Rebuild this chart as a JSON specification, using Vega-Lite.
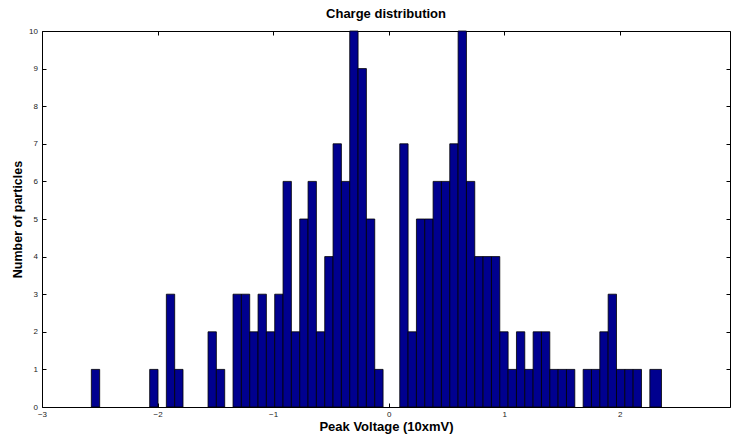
{
  "$schema": "https://vega.github.io/schema/vega-lite/v6.json",
  "autosize": {"type": "none"},
  "width": 688,
  "height": 376,
  "padding": {"left": 42, "top": 31, "right": 1, "bottom": 27},
  "background": "white",
  "config": {
    "view": {"stroke": "black", "strokeWidth": 1},
    "font": "Liberation Sans",
    "axis": {"grid": false, "domain": false, "labelFlush": false, "labelOverlap": false, "tickColor": "black", "tickWidth": 1, "labelColor": "#222222", "labelFontSize": 8, "labelFont": "Liberation Sans", "titleFont": "Liberation Sans", "titleFontWeight": "bold", "titleFontSize": 12.5, "titleColor": "black"}
  },
  "title": {"text": "Charge distribution", "fontSize": 13, "fontWeight": "bold", "font": "Liberation Sans", "color": "black", "offset": 6, "anchor": "middle"},
  "data": {"values": [
    {"start": -2.5730, "end": -2.5008, "count": 1},
    {"start": -2.0680, "end": -1.9958, "count": 1},
    {"start": -1.9237, "end": -1.8515, "count": 3},
    {"start": -1.8515, "end": -1.7794, "count": 1},
    {"start": -1.5629, "end": -1.4908, "count": 2},
    {"start": -1.4908, "end": -1.4186, "count": 1},
    {"start": -1.3465, "end": -1.2743, "count": 3},
    {"start": -1.2743, "end": -1.2022, "count": 3},
    {"start": -1.2022, "end": -1.1300, "count": 2},
    {"start": -1.1300, "end": -1.0579, "count": 3},
    {"start": -1.0579, "end": -0.9857, "count": 2},
    {"start": -0.9857, "end": -0.9136, "count": 3},
    {"start": -0.9136, "end": -0.8414, "count": 6},
    {"start": -0.8414, "end": -0.7693, "count": 2},
    {"start": -0.7693, "end": -0.6971, "count": 5},
    {"start": -0.6971, "end": -0.6250, "count": 6},
    {"start": -0.6250, "end": -0.5528, "count": 2},
    {"start": -0.5528, "end": -0.4807, "count": 4},
    {"start": -0.4807, "end": -0.4085, "count": 7},
    {"start": -0.4085, "end": -0.3364, "count": 6},
    {"start": -0.3364, "end": -0.2642, "count": 10},
    {"start": -0.2642, "end": -0.1921, "count": 9},
    {"start": -0.1921, "end": -0.1199, "count": 5},
    {"start": -0.1199, "end": -0.0478, "count": 1},
    {"start": 0.0966, "end": 0.1687, "count": 7},
    {"start": 0.1687, "end": 0.2409, "count": 2},
    {"start": 0.2409, "end": 0.3130, "count": 5},
    {"start": 0.3130, "end": 0.3852, "count": 5},
    {"start": 0.3852, "end": 0.4573, "count": 6},
    {"start": 0.4573, "end": 0.5295, "count": 6},
    {"start": 0.5295, "end": 0.6016, "count": 7},
    {"start": 0.6016, "end": 0.6738, "count": 10},
    {"start": 0.6738, "end": 0.7459, "count": 6},
    {"start": 0.7459, "end": 0.8181, "count": 4},
    {"start": 0.8181, "end": 0.8902, "count": 4},
    {"start": 0.8902, "end": 0.9624, "count": 4},
    {"start": 0.9624, "end": 1.0345, "count": 2},
    {"start": 1.0345, "end": 1.1067, "count": 1},
    {"start": 1.1067, "end": 1.1788, "count": 2},
    {"start": 1.1788, "end": 1.2510, "count": 1},
    {"start": 1.2510, "end": 1.3231, "count": 2},
    {"start": 1.3231, "end": 1.3953, "count": 2},
    {"start": 1.3953, "end": 1.4674, "count": 1},
    {"start": 1.4674, "end": 1.5396, "count": 1},
    {"start": 1.5396, "end": 1.6117, "count": 1},
    {"start": 1.6839, "end": 1.7560, "count": 1},
    {"start": 1.7560, "end": 1.8282, "count": 1},
    {"start": 1.8282, "end": 1.9003, "count": 2},
    {"start": 1.9003, "end": 1.9725, "count": 3},
    {"start": 1.9725, "end": 2.0446, "count": 1},
    {"start": 2.0446, "end": 2.1168, "count": 1},
    {"start": 2.1168, "end": 2.1889, "count": 1},
    {"start": 2.2611, "end": 2.3620, "count": 1}
  ]},
  "layer": [
    {
      "mark": {"type": "bar", "fill": "#00008F", "stroke": "black", "strokeWidth": 0.8},
      "encoding": {
        "x": {"field": "start", "type": "quantitative", "scale": {"domain": [-3, 2.955], "nice": false, "zero": false},
              "axis": {"orient": "bottom", "values": [-3, -2, -1, 0, 1, 2], "tickSize": -4, "labelPadding": 7, "titlePadding": 2, "titleFontSize": 13, "title": "Peak Voltage (10xmV)"}},
        "x2": {"field": "end"},
        "y": {"field": "count", "type": "quantitative", "scale": {"domain": [0, 10], "nice": false, "zero": true},
              "axis": {"orient": "left", "values": [0, 1, 2, 3, 4, 5, 6, 7, 8, 9, 10], "tickSize": -4, "labelPadding": 8.5, "titlePadding": 4, "title": "Number of particles"}},
        "y2": {"datum": 0}
      }
    },
    {
      "mark": {"type": "point", "opacity": 0},
      "encoding": {
        "x": {"field": "start", "type": "quantitative", "axis": {"orient": "top", "values": [-3, -2, -1, 0, 1, 2], "labels": false, "tickSize": -4, "title": null}},
        "y": {"field": "count", "type": "quantitative", "axis": {"orient": "right", "values": [0, 1, 2, 3, 4, 5, 6, 7, 8, 9, 10], "labels": false, "tickSize": -4, "title": null}}
      }
    }
  ],
  "resolve": {"axis": {"x": "independent", "y": "independent"}}
}
